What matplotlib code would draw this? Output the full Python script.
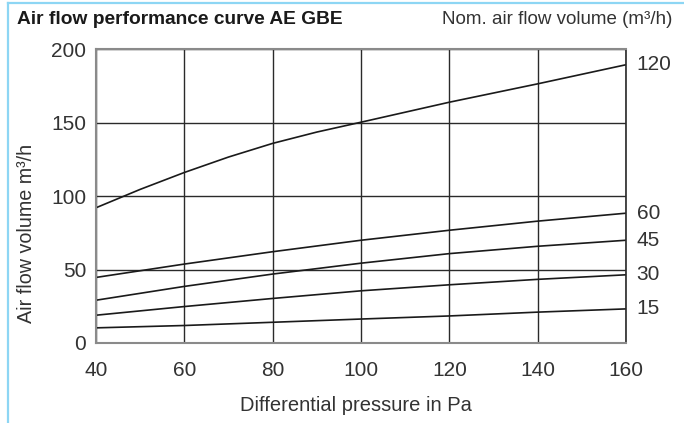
import matplotlib
matplotlib.use("Agg")
import matplotlib.pyplot as plt
from matplotlib.lines import Line2D

plt.rcParams['font.family'] = ['Liberation Sans', 'DejaVu Sans']

pressure = [40, 50, 60, 70, 80, 90, 100, 120, 140, 160]
flow_120 = [92, 104.5, 116, 126.5, 135.8, 143.5, 150.2, 163.8, 176.3, 189.3]
pressure_low = [40, 60, 80, 100, 120, 140, 160]
flow_60 = [44.6, 53.7, 62.1, 69.9, 76.7, 82.9, 88.3]
flow_45 = [29.1, 38.5, 46.9, 54.3, 60.8, 65.8, 69.9]
flow_30 = [18.9, 24.8, 30.3, 35.5, 39.6, 43.3, 46.4]
flow_15 = [10.3, 11.9, 14.1, 16.3, 18.4, 21.0, 23.2]
series = [("120", pressure, flow_120), ("60", pressure_low, flow_60),
          ("45", pressure_low, flow_45), ("30", pressure_low, flow_30),
          ("15", pressure_low, flow_15)]
xticks = [40, 60, 80, 100, 120, 140, 160]
yticks = [0, 50, 100, 150, 200]

W, H = 684, 423
fig = plt.figure(figsize=(W / 100, H / 100), dpi=100)
ax = fig.add_axes([96 / W, 1 - 343 / H, (626 - 96) / W, (343 - 49) / H])

FS = 15
ax.set_xlim(40, 160)
ax.set_ylim(0, 200)
ax.set_xticks(xticks)
ax.set_yticks(yticks)
ax.grid(True, color='#2a2a2a', linewidth=1.0)
ax.set_axisbelow(True)
ax.tick_params(length=0, labelsize=FS, colors='#333333', pad=7)
ax.tick_params(axis='x', pad=13)

for name, xs, vals in series:
    ax.plot(xs, vals, color='#1a1a1a', linewidth=1.2, solid_capstyle='butt')
    ax.text(1.02, vals[-1], name, transform=ax.get_yaxis_transform(),
            fontsize=FS, color='#333333', va='center', ha='left')

for s in ['left', 'top', 'bottom']:
    ax.spines[s].set_color('#8a8a8a')
    ax.spines[s].set_linewidth(1.5)
ax.spines['right'].set_color('#2a2a2a')
ax.spines['right'].set_linewidth(1.2)

fig.text(17 / W, 1 - 20 / H, "Air flow performance curve AE GBE", fontsize=13.8,
         fontweight='bold', color='#1a1a1a', ha='left', va='center')
fig.text(672 / W, 1 - 20 / H, "Nom. air flow volume (m³/h)", fontsize=13.5,
         color='#333333', ha='right', va='center')
fig.text(27 / W, 1 - 233 / H, "Air flow volume m³/h", fontsize=14.2, color='#333333',
         rotation=90, ha='center', va='center')
fig.text(356 / W, 1 - 405 / H, "Differential pressure in Pa", fontsize=14.5,
         color='#333333', ha='center', va='center')

blue = '#8dd6f4'
fig.add_artist(Line2D([7.5 / W, 7.5 / W], [0, 1 - 3.5 / H], color=blue, linewidth=1.6,
                      transform=fig.transFigure))
fig.add_artist(Line2D([7.5 / W, 1], [1 - 3.5 / H, 1 - 3.5 / H], color=blue, linewidth=1.6,
                      transform=fig.transFigure))

fig.savefig("out.png", dpi=100)
